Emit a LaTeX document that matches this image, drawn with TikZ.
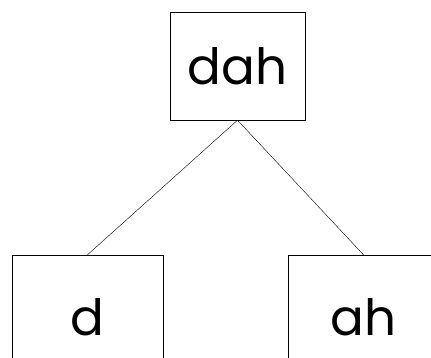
\documentclass[tikz,border=0pt]{standalone}
\usepackage{fontspec}
\setmainfont{Poppins}
\usetikzlibrary{positioning}
\tikzset{
  word/.style={draw,thin,fill=white,minimum width=#1,font=\fontsize{50}{50}\selectfont},
  word/.default=135pt,
  branch/.style={draw,thin},
}
\begin{document}
\begin{tikzpicture}[x=1pt,y=-1pt]
  \useasboundingbox (0,0) rectangle (431,358);
  \clip (0,0) rectangle (431,358);
  \node[word,minimum height=108pt] (top) at (237.5,66) {dah};
  \node[word=151pt,minimum height=125pt] (left) at (87.5,317.5) {d};
  \node[word=151pt,minimum height=125pt] (right) at (363.5,317.5) {ah};
  \foreach \n in {left,right} \draw[branch] (top.south) -- (\n.north);
\end{tikzpicture}
\end{document}
